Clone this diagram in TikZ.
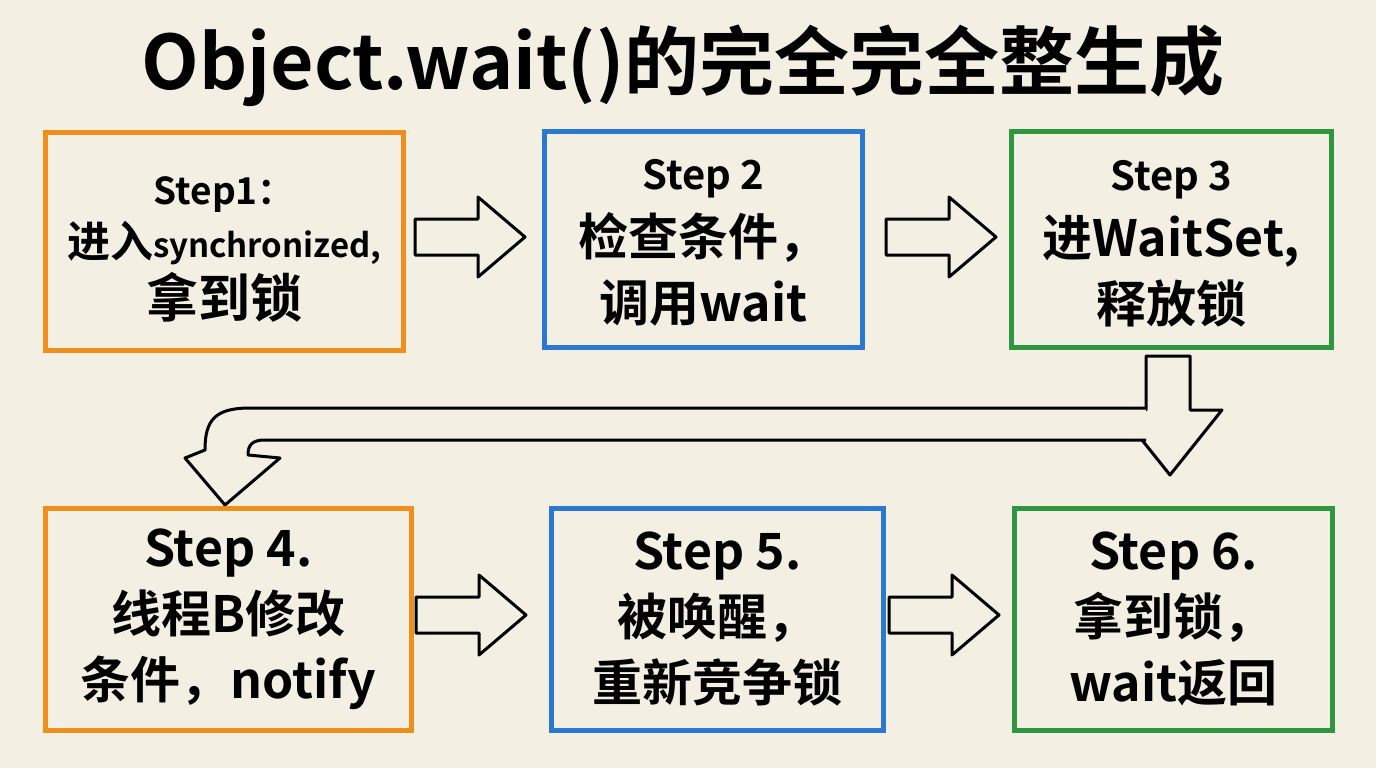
\documentclass[tikz,border=0pt]{standalone}
\usepackage{fontspec}
\setmainfont{Noto Sans CJK SC Bold}
\definecolor{bg}{HTML}{F3EFE3}
\definecolor{cor}{HTML}{EE8E1C}
\definecolor{cbl}{HTML}{2A78D0}
\definecolor{cgr}{HTML}{2E9640}
\tikzset{
 box/.style={draw=#1, line width=4.5pt, fill=bg, inner sep=0pt, align=center, anchor=north west},
 txt/.style={font=\fontsize{50}{66}\selectfont, align=center},
 barrow/.style={draw=black, line width=3pt, fill=bg, line join=round}
}
\newcommand{\blockarrow}[1]{\draw[barrow] ([shift={(-55,-18)}]#1) -- ([shift={(8,-18)}]#1) -- ([shift={(8,-40)}]#1) -- ([shift={(55,0)}]#1) -- ([shift={(8,40)}]#1) -- ([shift={(8,18)}]#1) -- ([shift={(-55,18)}]#1) -- cycle;}
\begin{document}
\begin{tikzpicture}[x=1pt,y=-1pt]
\fill[bg] (0,0) rectangle (1376,768);
\useasboundingbox (0,0) rectangle (1376,768);
\node[font=\fontsize{75}{80}\selectfont] (title) at (683,66) {Object.wait()的完全完全整生成};
% boxes
\node[box=cor, minimum width=358pt, minimum height=218pt] (b1) at (43,130) {};
\node[box=cbl, minimum width=318pt, minimum height=216pt] (b2) at (542,129) {};
\node[box=cgr, minimum width=320pt, minimum height=216pt] (b3) at (1009,129) {};
\node[box=cor, minimum width=366pt, minimum height=222pt] (b4) at (43,506) {};
\node[box=cbl, minimum width=332pt, minimum height=222pt] (b5) at (549,506) {};
\node[box=cgr, minimum width=318pt, minimum height=222pt] (b6) at (1012,506) {};
% texts
\node[align=center] (t1) at ([yshift=-8pt]b1.center) {{\fontsize{37}{46}\selectfont Step1：}\\[8pt]{\fontsize{43}{50}\selectfont 进入{\fontsize{33}{34}\selectfont synchronized,}}\\[6pt]{\fontsize{52}{58}\selectfont 拿到锁}};
\node[txt] (t2) at ([yshift=-4pt]b2.center) {{\fontsize{40}{50}\selectfont Step 2}\\检查条件，\\调用wait};
\node[txt] (t3) at ([yshift=-4pt]b3.center) {{\fontsize{40}{50}\selectfont Step 3}\\进WaitSet,\\释放锁};
\node[txt] (t4) at (b4.center) {Step 4.\\线程B修改\\条件，notify};
\node[txt] (t5) at (b5.center) {Step 5.\\被唤醒，\\重新竞争锁};
\node[txt] (t6) at (b6.center) {Step 6.\\拿到锁，\\wait返回};
% block arrows
\coordinate (a1) at (470,237); \blockarrow{a1}
\coordinate (a2) at (941,237); \blockarrow{a2}
\coordinate (a3) at (471,615); \blockarrow{a3}
\coordinate (a4) at (944,615); \blockarrow{a4}
% return arrow
\draw[barrow]
 (1146,356) -- (1190,356) -- (1190,410) -- (1222,410) -- (1170,475) -- (1118,410) -- (1146,410) -- cycle;
\draw[barrow]
 (1146,408) -- (250,408) .. controls (215,408) and (205,420) .. (205,450)
 -- (185,458) -- (225,505) -- (280,458) -- (248,455)
 .. controls (248,445) and (252,440) .. (265,440) -- (1146,440);
\end{tikzpicture}
\end{document}
